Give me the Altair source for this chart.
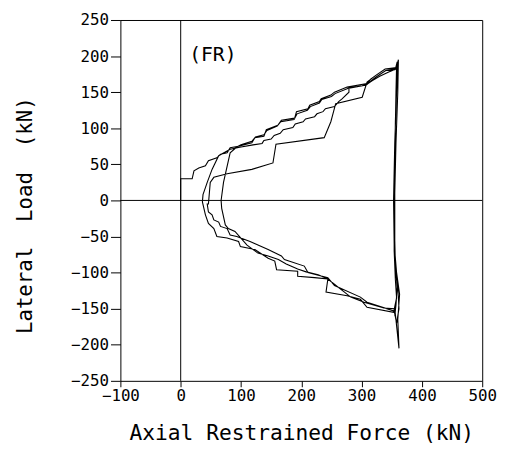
import altair as alt
import pandas as pd

# ---- data (axial force kN, lateral load kN) ----
# cycle 1: initial loading envelope
C1_UP_X = [0, 0, 19, 22, 30, 41, 46, 60, 66, 77, 82, 96, 118, 123, 138, 142, 161, 167, 189, 192,
           211, 214, 230, 233, 249, 255, 276, 309, 315, 323, 339, 356, 359]
C1_UP_Y = [0, 30, 30, 41, 45, 48, 55, 59, 64, 66, 73, 75, 80, 87, 89, 98, 104, 111, 114, 123,
           127, 132, 137, 141, 146, 150, 157, 162, 168, 173, 182, 182, 192]
C1_VERT_X = [358, 356, 355, 354, 354, 356, 358, 353]
C1_VERT_Y = [160, 110, 50, -10, -70, -110, -135, -155]
C1_LOW_X = [353, 309, 298, 276, 241, 244, 222, 194, 194, 159, 156, 145, 123, 99, 96, 77, 60, 55, 46, 41, 36]
C1_LOW_Y = [-155, -148, -137, -132, -127, -109, -107, -105, -98, -96, -84, -80, -68, -64, -57, -52, -50, -39, -32, -20, -2]

# cycle 2
C2_UP_X = [37, 44, 52, 63, 82, 100, 120, 135, 138, 150, 155, 165, 170, 186, 190, 203, 207, 222, 226, 236,
           240, 255, 262, 268, 279, 279, 301, 309, 318, 330, 345, 357, 360]
C2_UP_Y = [8, 25, 43, 62, 71, 74, 77, 79, 83, 85, 90, 93, 98, 101, 106, 109, 113, 116, 120, 123,
           127, 130, 137, 141, 150, 156, 159, 161, 166, 172, 178, 182, 188]
C2_VERT_X = [358, 355, 353, 354, 356, 360, 362, 358, 354]
C2_VERT_Y = [150, 80, 0, -60, -95, -120, -150, -170, -153]
C2_LOW_X = [353, 309, 298, 255, 244, 211, 205, 172, 167, 145, 115, 93, 82, 77, 66, 63, 55, 52, 46, 44]
C2_LOW_Y = [-153, -141, -134, -118, -107, -100, -91, -82, -77, -68, -57, -50, -48, -39, -36, -30, -27, -20, -16, -5]

# cycle 3
C3_UP_X = [46, 49, 55, 77, 118, 153, 158, 238, 249, 257, 301, 309, 323, 339, 358, 361]
C3_UP_Y = [-5, 25, 32, 37, 43, 52, 78, 87, 109, 134, 143, 164, 173, 182, 184, 195]
C3_VERT_X = [360, 357, 355, 355, 358, 363, 360, 362, 355]
C3_VERT_Y = [150, 80, 10, -70, -100, -130, -165, -205, -150]
C3_LOW_X = [355, 337, 304, 282, 244, 228, 208, 194, 175, 162, 145, 128, 110, 90, 79, 74, 68, 67]
C3_LOW_Y = [-150, -149, -141, -134, -109, -103, -99, -95, -88, -82, -77, -73, -62, -43, -39, -34, -11, 0]

# cycle 4
C4_UP_X = [67, 71, 82, 93, 100, 118, 124, 138, 143, 160, 166, 188, 193, 210, 215, 230, 234, 250, 256,
           277, 308, 316, 324, 340, 355, 358]
C4_UP_Y = [0, 25, 66, 74, 77, 82, 88, 91, 97, 103, 109, 112, 120, 125, 130, 135, 140, 144, 148,
           155, 160, 166, 171, 180, 181, 186]
C4_VERT_X = [357, 355, 354, 356, 359, 357, 355]
C4_VERT_Y = [150, 60, -20, -90, -120, -145, -160]

X_TICKS = [-100, 0, 100, 200, 300, 400, 500]
Y_TICKS = [-250, -200, -150, -100, -50, 0, 50, 100, 150, 200, 250]
LABEL = "(FR)"

segments = [
    (C1_UP_X, C1_UP_Y), (C1_VERT_X, C1_VERT_Y), (C1_LOW_X, C1_LOW_Y),
    (C2_UP_X, C2_UP_Y), (C2_VERT_X, C2_VERT_Y), (C2_LOW_X, C2_LOW_Y),
    (C3_UP_X, C3_UP_Y), (C3_VERT_X, C3_VERT_Y), (C3_LOW_X, C3_LOW_Y),
    (C4_UP_X, C4_UP_Y), (C4_VERT_X, C4_VERT_Y),
]
rows = []
k = 0
for xs, ys in segments:
    for x, y in zip(xs, ys):
        rows.append({"force": x, "load": y, "seq": k})
        k += 1
df = pd.DataFrame(rows)

MONO = "DejaVu Sans Mono"

xscale = alt.Scale(domain=[-100, 500], nice=False, zero=False)
yscale = alt.Scale(domain=[-250, 250], nice=False, zero=False)

xaxis = alt.Axis(values=X_TICKS, title="Axial Restrained Force (kN)", grid=False, domain=False,
                 tickSize=6, tickColor="black", labelPadding=1, labelFont=MONO, labelFontSize=16,
                 labelColor="black", titleFont=MONO, titleFontSize=21.5, titleFontWeight="normal",
                 titleColor="black", titleY=53, titleBaseline="middle", labelFlush=False)
yaxis = alt.Axis(values=Y_TICKS, title="Lateral\u00a0\u00a0Load\u00a0\u00a0(kN)", grid=False, domain=False,
                 tickSize=10, tickColor="black", labelPadding=2, labelFont=MONO, labelFontSize=16,
                 labelColor="black", titleFont=MONO, titleFontSize=21, titleFontWeight="normal",
                 titleColor="black", titleX=-96, titleY=198, titleBaseline="middle", labelFlush=False)

X = lambda: alt.X("force:Q", scale=xscale, axis=xaxis)
Y = lambda: alt.Y("load:Q", scale=yscale, axis=yaxis)

curve = alt.Chart(df).mark_line(color="black", strokeWidth=1.1).encode(
    x=X(), y=Y(), order="seq:Q"
)

vzero = alt.Chart(pd.DataFrame({"force": [0]})).mark_rule(color="black", strokeWidth=1).encode(x=X())
hzero = alt.Chart(pd.DataFrame({"load": [0]})).mark_rule(color="black", strokeWidth=1).encode(y=Y())

label = alt.Chart(pd.DataFrame({"force": [14], "load": [201], "txt": [LABEL]})).mark_text(
    align="left", baseline="middle", font=MONO, fontSize=20, color="black"
).encode(x=X(), y=Y(), text="txt:N")

chart = alt.layer(vzero, hzero, curve, label).properties(
    width=367, height=366,
    padding={"left": 7, "top": 1, "right": 0, "bottom": 5},
    background="white",
).configure_view(stroke="black", strokeWidth=1, strokeOpacity=1)

chart.save("out.html", embed_options={"renderer": "svg", "actions": False})
